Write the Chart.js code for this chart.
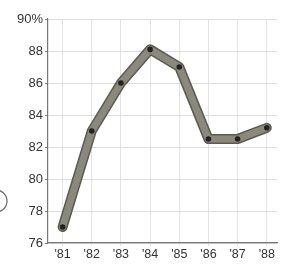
<!DOCTYPE html>
<html>
<head>
<meta charset="utf-8">
<script src="https://cdn.jsdelivr.net/npm/chart.js@4"></script>
<style>
  html, body { margin: 0; padding: 0; background: #fff; }
  #wrap { width: 281px; height: 264px; }
</style>
</head>
<body>
<div id="wrap"><canvas id="rateChart" width="281" height="264"></canvas></div>
<script>
// Values
const years = ["'81", "'82", "'83", "'84", "'85", "'86", "'87", "'88"];
const rates = [77, 83, 86, 88.1, 87, 82.5, 82.5, 83.2];
const yTicks = [76, 78, 80, 82, 84, 86, 88, 90];

const points = years.map((y, i) => ({ x: 81 + i, y: rates[i] }));

// small partial circle at the left edge of the picture
const leftMark = {
  id: "leftMark",
  afterDraw(chart) {
    const c = chart.ctx;
    c.save();
    c.strokeStyle = "#666";
    c.lineWidth = 1.2;
    c.beginPath();
    c.arc(-4, 201, 11, -Math.PI / 2.4, Math.PI / 2.4);
    c.stroke();
    c.restore();
  }
};

new Chart(document.getElementById("rateChart"), {
  type: "line",
  data: {
    datasets: [
      {
        label: "rate",
        data: points,
        borderColor: "#8b897b",
        borderWidth: 7,
        pointRadius: 2.8,
        pointBackgroundColor: "#222",
        pointBorderWidth: 0,
        tension: 0,
        borderJoinStyle: "round",
        borderCapStyle: "round",
        order: 1
      },
      {
        label: "edge",
        data: points,
        borderColor: "#5c5b52",
        borderWidth: 10,
        pointRadius: 0,
        tension: 0,
        borderJoinStyle: "round",
        borderCapStyle: "round",
        order: 2
      }
    ]
  },
  options: {
    responsive: false,
    animation: false,
    layout: { padding: { top: 19, left: 0, right: 0, bottom: 0 } },
    plugins: { legend: { display: false }, tooltip: { enabled: false } },
    scales: {
      x: {
        type: "linear",
        min: 80.5,
        max: 88.35,
        afterFit(s) { s.height = 21; },
        afterBuildTicks(s) { s.ticks = years.map((y, i) => ({ value: 81 + i })); },
        border: { color: "#777", width: 1.2 },
        grid: { color: "#e4e4e4", tickLength: 3, drawTicks: true },
        ticks: {
          color: "#333",
          padding: 1,
          maxRotation: 0,
          font: { family: "Liberation Sans", size: 12.5 },
          callback: v => years[Math.round(v) - 81]
        }
      },
      y: {
        min: 76,
        max: 90,
        afterFit(s) { s.width = 48; },
        afterBuildTicks(s) {
          const t = [];
          for (let v = 76; v <= 90; v++) t.push({ value: v });
          s.ticks = t;
        },
        border: { color: "#777", width: 1.2 },
        grid: {
          color: ctx => (ctx.tick && ctx.tick.value % 2 === 0) ? "#dcdcdc" : "#ececec",
          tickColor: ctx => (ctx.tick && ctx.tick.value % 2 === 0) ? "#777" : "rgba(0,0,0,0)",
          tickLength: 3
        },
        ticks: {
          color: "#333",
          padding: 2,
          font: { family: "Liberation Sans", size: 13 },
          callback: v => yTicks.includes(v) ? (v === 90 ? "90%" : String(v)) : ""
        }
      }
    }
  },
  plugins: [leftMark]
});
</script>
</body>
</html>
